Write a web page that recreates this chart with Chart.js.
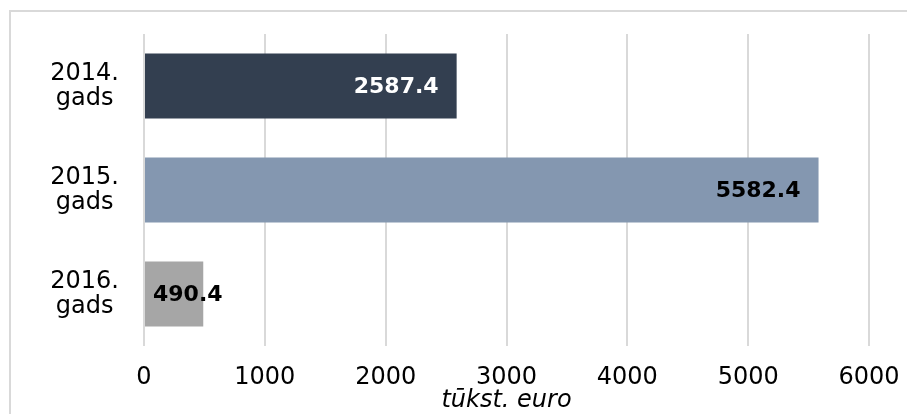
<!DOCTYPE html>
<html>
<head>
<meta charset="utf-8">
<script src="https://cdn.jsdelivr.net/npm/chart.js@4/dist/chart.umd.min.js"></script>
<style>
    html, body { margin: 0; padding: 0; background: #fff; overflow: hidden; }
    #wrap { position: relative; width: 907px; height: 414px; overflow: hidden; }
    #frame { position: absolute; left: 9px; top: 10px; width: 1000px; height: 500px;
             border-top: 2px solid #d9d9d9; border-left: 2px solid #d9d9d9; }
    canvas { position: absolute; left: 0; top: 0; }
</style>
</head>
<body>
<div id="wrap">
    <div id="frame"></div>
    <canvas id="chart" width="907" height="414"></canvas>
</div>
<script>
// chart data
const categories = [['2014.', 'gads'], ['2015.', 'gads'], ['2016.', 'gads']];
const values = [2587.4, 5582.4, 490.4];
const barColors = ['#333f50', '#8497b0', '#a6a6a6'];
const labelColors = ['#ffffff', '#000000', '#000000'];
const axisTitle = 'tūkst. euro';

const FONT = "'DejaVu Sans', Verdana, sans-serif";

// draws value labels at the inner end of each bar
const valueLabels = {
    id: 'valueLabels',
    afterDatasetsDraw(chart) {
        const ctx = chart.ctx;
        const meta = chart.getDatasetMeta(0);
        ctx.save();
        ctx.font = 'bold 22px ' + FONT;
        ctx.textBaseline = 'middle';
        ctx.textAlign = 'left';
        meta.data.forEach((bar, i) => {
            const text = values[i].toFixed(1);
            const w = ctx.measureText(text).width;
            const x = Math.max(bar.x - 18 - w, bar.base + 8);
            ctx.fillStyle = labelColors[i];
            ctx.fillText(text, x, bar.y + 1);
        });
        ctx.restore();
    }
};

const ctx = document.getElementById('chart').getContext('2d');
new Chart(ctx, {
    type: 'bar',
    data: {
        labels: categories,
        datasets: [{ data: values, backgroundColor: barColors, categoryPercentage: 1, barPercentage: 0.625 }]
    },
    options: {
        indexAxis: 'y',
        responsive: false,
        animation: false,
        layout: { padding: { top: 34, right: 38, left: 0, bottom: 0 } },
        plugins: { legend: { display: false }, tooltip: { enabled: false } },
        scales: {
            x: {
                min: 0, max: 6000,
                ticks: { stepSize: 1000, color: '#000', padding: 17, font: { family: FONT, size: 24 },
                         callback: (v) => String(v) },
                grid: { color: '#d9d9d9', lineWidth: 2, drawTicks: false },
                border: { display: false },
                title: { display: true, text: axisTitle, color: '#000', padding: 0,
                         font: { family: FONT, size: 24, style: 'italic', lineHeight: 1.1 } },
                afterFit: (scale) => { scale.height = 68; scale.paddingLeft = 0; scale.paddingRight = 0; }
            },
            y: {
                ticks: { color: '#000', padding: 25, crossAlign: 'center', font: { family: FONT, size: 24, lineHeight: 1.05 } },
                grid: { display: false, drawTicks: false },
                border: { display: false },
                afterFit: (scale) => { scale.width = 144; scale.paddingTop = 0; scale.paddingBottom = 0; }
            }
        }
    },
    plugins: [valueLabels]
});
</script>
</body>
</html>
